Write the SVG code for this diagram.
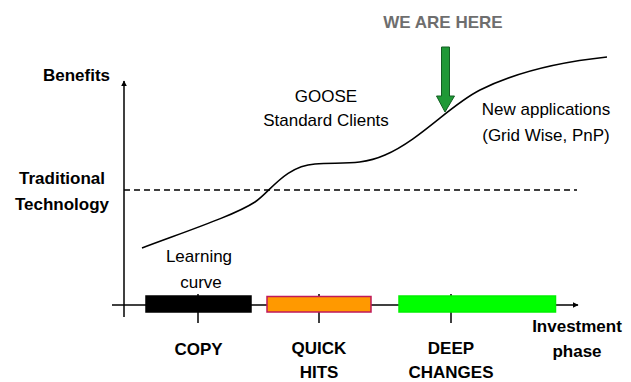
<svg xmlns="http://www.w3.org/2000/svg" width="631" height="382" viewBox="0 0 631 382">
  <defs>
    <marker id="arrow" viewBox="0 0 10 10" refX="9" refY="5" markerWidth="6" markerHeight="6" markerUnits="userSpaceOnUse" orient="auto">
      <path d="M0,0 L10,5 L0,10 z" fill="#000"/>
    </marker>
    <style>
      .label { font-family: "Liberation Sans", Arial, sans-serif; font-size: 17px; fill: #000; }
      .bold { font-weight: bold; }
      .axis { stroke: #000; stroke-width: 1.5; fill: none; }
      .tick { stroke: #000; stroke-width: 1.5; }
      .bar { stroke-width: 1.5; }
    </style>
  </defs>
  <rect width="631" height="382" fill="#fff"/>

  <!-- axes, threshold and growth curve -->
  <g id="connectors">
    <line class="axis" x1="124" y1="317" x2="124" y2="81" marker-end="url(#arrow)"/>
    <line class="axis" x1="112" y1="305" x2="578" y2="305" marker-end="url(#arrow)"/>
    <line x1="124" y1="190" x2="577" y2="190" stroke="#000" stroke-width="1.5" stroke-dasharray="6 4"/>
    <path class="axis" d="M142,248 C190,230 235,215 255,202 C270,192 285,166 315,164 C340,162 360,166 385,155 C420,140 450,105 480,90 C510,75 550,63 607,57"/>
  </g>

  <!-- axis labels -->
  <g id="benefits-label">
    <text class="label bold" x="110" y="81" text-anchor="end">Benefits</text>
  </g>
  <g id="traditional-technology">
    <text class="label bold" x="62" y="184" text-anchor="middle">Traditional</text>
    <text class="label bold" x="62" y="210" text-anchor="middle">Technology</text>
  </g>
  <g id="investment-phase">
    <text class="label bold" x="577" y="332" text-anchor="middle">Investment</text>
    <text class="label bold" x="577" y="357" text-anchor="middle">phase</text>
  </g>

  <!-- curve annotations -->
  <g id="learning-curve">
    <text class="label" x="199" y="262" text-anchor="middle">Learning</text>
    <text class="label" x="201" y="288" text-anchor="middle">curve</text>
  </g>
  <g id="goose">
    <text class="label" x="326" y="102" text-anchor="middle">GOOSE</text>
    <text class="label" x="326" y="126" text-anchor="middle">Standard Clients</text>
  </g>
  <g id="new-applications">
    <text class="label" x="546" y="115" text-anchor="middle">New applications</text>
    <text class="label" x="546" y="141" text-anchor="middle">(Grid Wise, PnP)</text>
  </g>

  <!-- current position marker -->
  <g id="we-are-here">
    <text class="label bold" x="443" y="28" text-anchor="middle" style="fill:#6e6e6e">WE ARE HERE</text>
    <path d="M441.5,47 L449.5,47 L449.5,96 L454.5,96 L445,112 L436.5,96 L441.5,96 z" fill="#1f9936" stroke="#125e22" stroke-width="1"/>
  </g>

  <!-- investment phases: tick drawn first so the bar covers it -->
  <g id="copy">
    <line class="tick" x1="198" y1="294" x2="198" y2="323"/>
    <rect class="bar" x="146" y="296" width="105" height="16" fill="#000" stroke="#000"/>
    <text class="label bold" x="198.5" y="355" text-anchor="middle">COPY</text>
  </g>
  <g id="quick-hits">
    <line class="tick" x1="319" y1="294" x2="319" y2="323"/>
    <rect class="bar" x="267" y="296.5" width="104" height="15.5" fill="#ff9900" stroke="#c0185a"/>
    <text class="label bold" x="319" y="354" text-anchor="middle">QUICK</text>
    <text class="label bold" x="319" y="378" text-anchor="middle">HITS</text>
  </g>
  <g id="deep-changes">
    <line class="tick" x1="451" y1="294" x2="451" y2="323"/>
    <rect class="bar" x="399" y="296" width="156.5" height="16" fill="#00ff00" stroke="#00f000"/>
    <text class="label bold" x="451" y="354" text-anchor="middle">DEEP</text>
    <text class="label bold" x="451" y="378" text-anchor="middle">CHANGES</text>
  </g>
</svg>
